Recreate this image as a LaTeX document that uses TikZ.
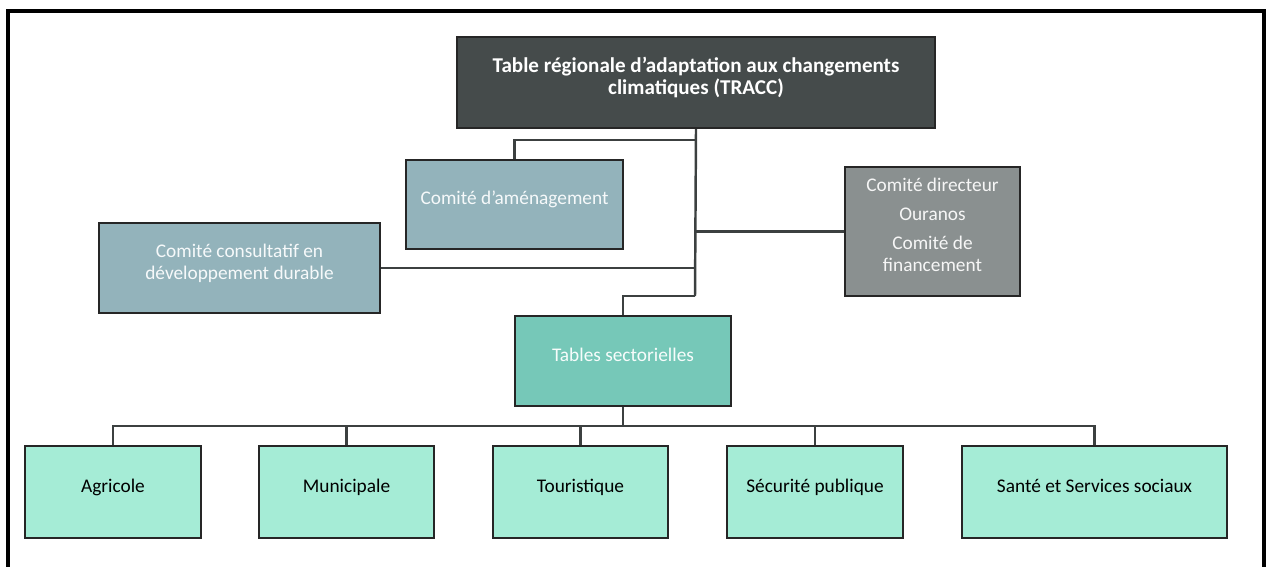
\documentclass[tikz,border=0pt]{standalone}
\usepackage{fontspec}
\setmainfont{Carlito}
\usetikzlibrary{positioning}
\definecolor{traccgray}{HTML}{454B4B}
\definecolor{comiteblue}{HTML}{93B3BB}
\definecolor{dirgray}{HTML}{8A9090}
\definecolor{tablegreen}{HTML}{76C8B8}
\definecolor{sectgreen}{HTML}{A5ECD6}
\definecolor{linkgray}{HTML}{3C4040}
\tikzset{
  box/.style={draw=black!85, line width=1.3pt, inner sep=2pt, align=center,
    text depth=7.5pt, font=\fontsize{11}{12.5}\selectfont},
  sector/.style={box, fill=sectgreen, text=black, minimum height=1.84cm},
  link/.style={draw=linkgray, line width=1.4pt},
}

\begin{document}
\begin{tikzpicture}[x=0.02cm, y=-0.02cm]
		%%%%% START %%%%%
		\useasboundingbox (0,0) rectangle (1267,567);
		\draw[line width=0.08cm, line cap=rect] (8,567) -- (8,11) -- (1264,11) -- (1264,567);
		
		% top of the chart
		\node[box, fill=traccgray, text=white, font=\fontsize{12}{12.8}\selectfont\bfseries,
		  minimum width=9.56cm, minimum height=1.82cm] (tracc) at (696,82.5)
		  {Table régionale d’adaptation aux changements\\climatiques (TRACC)};
		
		% committees
		\node[box, fill=comiteblue, text=white!92!comiteblue,
		  minimum width=4.34cm, minimum height=1.78cm] (amen) at (514.5,204.5)
		  {Comité d'aménagement};
		\node[box, fill=comiteblue, text=white!92!comiteblue,
		  minimum width=5.62cm, minimum height=1.8cm] (cons) at (239.5,268)
		  {Comité consultatif en\\développement durable};
		\node[box, fill=dirgray, text=white!92!dirgray,
		  minimum width=3.5cm, minimum height=2.58cm] (dir) at (932.5,231.5)
		  {Comité directeur\\[4pt] Ouranos\\[4pt] Comité de\\financement};
		
		\node[box, fill=tablegreen, text=white!94!tablegreen,
		  minimum width=4.32cm, minimum height=1.8cm] (tables) at (623,361)
		  {Tables sectorielles};
		
		% sectors
		\node[sector, minimum width=3.52cm] (agri) at (113,492) {Agricole};
		\node[sector, minimum width=3.5cm] (muni) at (346.5,492) {Municipale};
		\node[sector, minimum width=3.5cm] (tour) at (580.5,492) {Touristique};
		\node[sector, minimum width=3.52cm] (secu) at (815,492) {Sécurité publique};
		\node[sector, minimum width=5.3cm] (sante) at (1094.5,492) {Santé et Services sociaux};
		
		% links
		\coordinate (split) at (695,140);
		\coordinate (trunk) at (695,296);
		\coordinate (bus) at (623,426);
		\draw[link] (tracc.south) -- (trunk);
		\draw[link] (split) -| (amen.north);
		\draw[link] (dir.west) -- (dir.west -| trunk);
		\draw[link] (cons.east) -- (cons.east -| trunk);
		\draw[link] (trunk) -| (tables.north);
		\draw[link] (tables.south) -- (bus);
		\foreach \n in {agri,muni,tour,secu,sante}
		  \draw[link] (bus) -| (\n.north);
		%%%%% END %%%%%
\end{tikzpicture}
\end{document}
